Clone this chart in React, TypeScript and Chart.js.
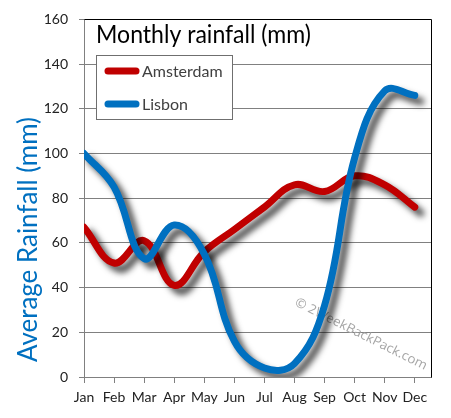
import React, { useEffect, useRef } from "react";
import { Chart, registerables } from "chart.js";

Chart.register(...registerables);

const months = ["Jan", "Feb", "Mar", "Apr", "May", "Jun", "Jul", "Aug", "Sep", "Oct", "Nov", "Dec"];
const amsterdam = [67, 51, 61, 41, 56, 66, 76, 86, 83, 90, 86, 76];
const lisbon = [100, 85, 53, 68, 55, 16, 4, 6, 32, 98, 128, 126];
const seriesNames = ["Amsterdam", "Lisbon"];
const seriesColors = ["#c00000", "#0070c0"];
const chartTitle = "Monthly rainfall (mm)";
const yAxisTitle = "Average Rainfall (mm)";
const watermark = "© 2WeekBackPack.com";
const yMin = 0;
const yMax = 160;
const yStep = 20;

const shadowPlugin = {
  id: "lineShadow",
  beforeDatasetDraw(chart: any) {
    const ctx = chart.ctx;
    ctx.save();
    ctx.shadowColor = "rgba(0,0,0,0.72)";
    ctx.shadowBlur = 6;
    ctx.shadowOffsetX = 6;
    ctx.shadowOffsetY = 6;
  },
  afterDatasetDraw(chart: any) {
    chart.ctx.restore();
  },
};

function fitText(ctx: CanvasRenderingContext2D, text: string, x: number, y: number, width: number) {
  const w = ctx.measureText(text).width;
  ctx.save();
  ctx.translate(x, y);
  ctx.scale(width / w, 1);
  ctx.fillText(text, 0, 0);
  ctx.restore();
}

const decorPlugin = {
  id: "decor",
  beforeDatasetsDraw(chart: any) {
    const ctx = chart.ctx;
    ctx.save();
    ctx.font = '13px "Open Sans"';
    ctx.fillStyle = "#a6a6a6";
    ctx.textBaseline = "alphabetic";
    ctx.translate(294, 305);
    ctx.rotate((26.5 * Math.PI) / 180);
    fitText(ctx, watermark, 0, 0, 146);
    ctx.restore();
  },
  afterDraw(chart: any) {
    const ctx = chart.ctx;
    const a = chart.chartArea;
    ctx.save();
    // top & right border
    ctx.strokeStyle = "#000";
    ctx.lineWidth = 1;
    ctx.beginPath();
    ctx.moveTo(Math.round(a.left) + 0.5, Math.round(a.top) + 0.5);
    ctx.lineTo(Math.round(a.right) + 0.5, Math.round(a.top) + 0.5);
    ctx.lineTo(Math.round(a.right) + 0.5, Math.round(a.bottom) + 0.5);
    ctx.stroke();
    // title
    ctx.fillStyle = "#000";
    ctx.font = "25px Lato";
    ctx.textBaseline = "alphabetic";
    fitText(ctx, chartTitle, 96, 43, 215);
    // y axis title
    ctx.save();
    ctx.fillStyle = "#0070c0";
    ctx.font = "27px Lato";
    ctx.translate(37, 362);
    ctx.rotate(-Math.PI / 2);
    fitText(ctx, yAxisTitle, 0, 0, 245);
    ctx.restore();
    // legend box
    ctx.fillStyle = "#fff";
    ctx.fillRect(96.5, 55.5, 136, 64);
    ctx.strokeStyle = "#6f6f6f";
    ctx.lineWidth = 1;
    ctx.strokeRect(96.5, 55.5, 136, 64);
    const rows = [71, 104];
    seriesNames.forEach((name, i) => {
      ctx.strokeStyle = seriesColors[i];
      ctx.lineWidth = 7;
      ctx.lineCap = "round";
      ctx.beginPath();
      ctx.moveTo(108, rows[i]);
      ctx.lineTo(136, rows[i]);
      ctx.stroke();
      ctx.fillStyle = "#404040";
      ctx.font = "16px Lato";
      ctx.textBaseline = "middle";
      ctx.fillText(name, 142, rows[i] + 1);
    });
    ctx.restore();
  },
};

export default function App() {
  const ref = useRef<HTMLCanvasElement>(null);
  useEffect(() => {
    if (!ref.current) return;
    const chart = new Chart(ref.current, {
      type: "line",
      data: {
        datasets: [
          {
            label: seriesNames[0],
            data: amsterdam.map((v, i) => ({ x: i, y: v })),
            borderColor: seriesColors[0],
            borderWidth: 7,
            borderCapStyle: "round",
            borderJoinStyle: "round",
            pointRadius: 0,
            tension: 0.4,
            order: 1,
          },
          {
            label: seriesNames[1],
            data: lisbon.map((v, i) => ({ x: i, y: v })),
            borderColor: seriesColors[1],
            borderWidth: 7,
            borderCapStyle: "round",
            borderJoinStyle: "round",
            pointRadius: 0,
            tension: 0.4,
            order: 0,
          },
        ],
      },
      options: {
        responsive: false,
        animation: false,
        layout: { padding: { top: 13, right: 20, left: 0, bottom: 0 } },
        plugins: { legend: { display: false }, tooltip: { enabled: false } },
        scales: {
          x: {
            type: "linear",
            min: 0,
            max: 11.54,
            afterBuildTicks: (s: any) => {
              s.ticks = months.map((_, i) => ({ value: i }));
            },
            afterFit: (s: any) => {
              s.height = 41;
            },
            grid: { drawOnChartArea: false, drawTicks: true, tickLength: 6, color: "#808080" },
            border: { color: "#808080" },
            ticks: {
              autoSkip: false,
              maxRotation: 0,
              padding: 6,
              color: "#222",
              font: { family: "Lato", size: 14 },
              callback: (v: any) => months[v as number] ?? "",
            },
          },
          y: {
            min: yMin,
            max: yMax,
            afterFit: (s: any) => {
              s.width = 84;
            },
            grid: { color: "#808080", tickLength: 5 },
            border: { color: "#808080" },
            ticks: {
              stepSize: yStep,
              padding: 11,
              color: "#222",
              font: { family: "Lato", size: 14 },
            },
            title: { display: false, text: yAxisTitle },
          },
        },
      },
      plugins: [shadowPlugin, decorPlugin],
    } as any);
    return () => chart.destroy();
  }, []);
  return (
    <div style={{ position: "fixed", left: 0, top: 0, width: 451, height: 418, background: "#fff" }}>
      <canvas ref={ref} width={451} height={418} />
    </div>
  );
}
